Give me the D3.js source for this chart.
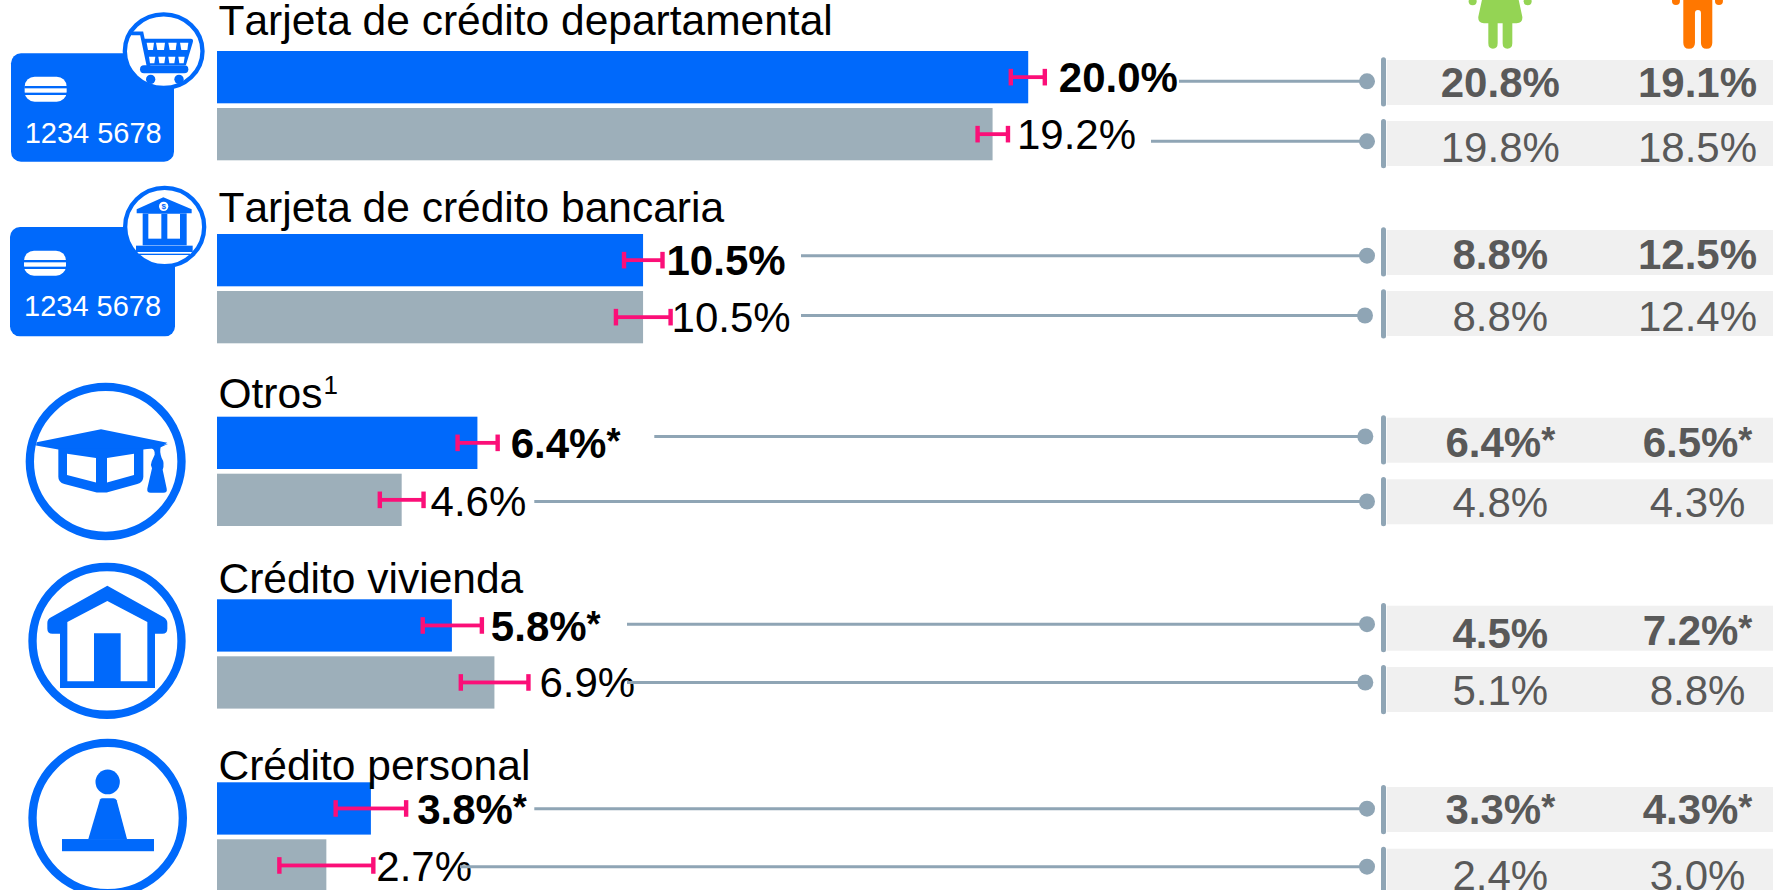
<!DOCTYPE html>
<html><head><meta charset="utf-8">
<style>html,body{margin:0;padding:0;background:#fff;overflow:hidden}svg{display:block}text{font-family:"Liberation Sans",Arial,sans-serif}</style>
<script src="https://cdn.jsdelivr.net/npm/d3@7"></script></head>
<body><svg id="c" width="1773" height="890"></svg>
<script>
// ---- data ----
const categories = ["Tarjeta de crédito departamental","Tarjeta de crédito bancaria","Otros","Crédito vivienda","Crédito personal"];
const currentValues = [20.03,10.52,6.43,5.8,3.8];
const previousValues = [19.15,10.52,4.56,6.85,2.7];
const currentLabels = ["20.0%","10.5%","6.4%*","5.8%*","3.8%*"];
const previousLabels = ["19.2%","10.5%","4.6%","6.9%","2.7%"];
const currentLow = [19.6,10.05,5.94,5.08,2.93];
const currentHigh = [20.44,11.0,6.93,6.54,4.67];
const previousLow = [18.78,9.85,4.02,6.02,1.54];
const previousHigh = [19.53,11.2,5.1,7.69,3.86];
const womenCurrent = ["20.8%","8.8%","6.4%*","4.5%","3.3%*"];
const womenPrevious = ["19.8%","8.8%","4.8%","5.1%","2.4%"];
const menCurrent = ["19.1%","12.5%","6.5%*","7.2%*","4.3%*"];
const menPrevious = ["18.5%","12.4%","4.3%","8.8%","3.0%"];

// ---- layout ----
const BLUE="#0069fb", GRAY="#9dafba", PINK="#fb0f78", SLATE="#8fa5b5", BAND="#f0f0f0", TXT="#595959";
const svg=d3.select("#c");
const x=d3.scaleLinear().domain([0,20]).range([217,1027]);
const barTop=d3.scaleOrdinal().domain(categories).range([51,234,416.7,599.3,782.3]);
const titleBase=d3.scaleOrdinal().domain(categories).range([35.2,221.7,408.3,593.3,780]);
const barH=52.3, prevOffset=57;
const labelGapCur=[14,4,13,9,11], labelGapPrev=[9,1,7,11,3];
const labelBaseCur=[92,275,457.7,640.7,824], labelBasePrev=[149,332,515.7,697,880.7];
const leadStartCur=[1179,801,654.3,627,534.3], leadStartPrev=[1151,801,534.3,627,460];
const leadYCur=[81.3,255.7,436.5,624.2,808.7], leadYPrev=[141.3,315.5,501.5,682.5,866.7];
const dotXCur=[1367,1367,1365.3,1367,1367], dotXPrev=[1367,1365,1367,1365.3,1367];
const bandTopCur=[60,230,417.7,605.7,787], bandTopPrev=[121,291,479.3,667,848.7];
const ruleTopCur=[57.3,227.3,415.3,603,785], ruleTopPrev=[119,289.3,477,665,846.7];
const tblBaseCur=[97.3,269,457.3,648.3,824.3], tblBasePrev=[161.7,330.7,516.7,704.7,890];
const tblBaseMenCur=[97.3,269,457.3,645.3,824.3];
const colW=1500.3, colM=1697.5;

const rows=[];
categories.forEach((c,i)=>{
  rows.push({c,i,kind:"cur",v:currentValues[i],lab:currentLabels[i],lo:currentLow[i],hi:currentHigh[i],
    top:barTop(c),fill:BLUE,bold:true,gap:labelGapCur[i],lb:labelBaseCur[i],ls:leadStartCur[i],ly:leadYCur[i],dx:dotXCur[i],
    bt:bandTopCur[i],rt:ruleTopCur[i],w:womenCurrent[i],m:menCurrent[i],wb:tblBaseCur[i],mb:tblBaseMenCur[i]});
  rows.push({c,i,kind:"prev",v:previousValues[i],lab:previousLabels[i],lo:previousLow[i],hi:previousHigh[i],
    top:barTop(c)+prevOffset,fill:GRAY,bold:false,gap:labelGapPrev[i],lb:labelBasePrev[i],ls:leadStartPrev[i],ly:leadYPrev[i],dx:dotXPrev[i],
    bt:bandTopPrev[i],rt:ruleTopPrev[i],w:womenPrevious[i],m:menPrevious[i],wb:tblBasePrev[i],mb:tblBasePrev[i]});
});
// label with a smaller raised asterisk
function starred(sel,get){
  sel.each(function(d){
    const s=get(d), t=d3.select(this), star=s.endsWith("*");
    t.append("tspan").text(star?s.slice(0,-1):s);
    if(star) t.append("tspan").attr("font-size",36).attr("dy",-4).text("*");
  });
}

// table bands
svg.append("g").selectAll("rect").data(rows).join("rect")
  .attr("x",1386.7).attr("y",d=>d.bt).attr("width",1773-1386.7).attr("height",45).attr("fill",BAND);
// vertical rules
svg.append("g").selectAll("rect").data(rows).join("rect")
  .attr("x",1381).attr("y",d=>d.rt).attr("width",5).attr("height",49.2).attr("rx",2.5).attr("fill",SLATE);
// table text
[["w","wb",colW],["m","mb",colM]].forEach(([k,b,cx])=>{
  svg.append("g").selectAll("text").data(rows).join("text")
    .attr("x",cx).attr("y",d=>d[b]).attr("text-anchor","middle").attr("font-size",42)
    .attr("font-weight",d=>d.bold?"bold":"normal").attr("fill",TXT).call(starred,d=>d[k]);
});
// bars
svg.append("g").selectAll("rect").data(rows).join("rect")
  .attr("x",x(0)).attr("y",d=>d.top).attr("width",d=>x(d.v)-x(0)).attr("height",barH).attr("fill",d=>d.fill);
// category titles
const titles=svg.append("g").selectAll("text").data(categories).join("text")
  .attr("x",218.5).attr("y",d=>titleBase(d)).attr("font-size",42.5).style("font-kerning","none").attr("fill","#000").text(d=>d);
titles.filter(d=>d==="Otros").append("tspan").attr("font-size",26).attr("dy",-14).attr("dx",1).text("1");
// value labels
svg.append("g").selectAll("text").data(rows).join("text")
  .attr("x",d=>x(d.hi)+d.gap).attr("y",d=>d.lb).attr("font-size",42)
  .attr("font-weight",d=>d.bold?"bold":"normal").attr("fill","#000").call(starred,d=>d.lab);
// error bars
const eb=svg.append("g").selectAll("g").data(rows).join("g").attr("fill",PINK);
eb.append("rect").attr("x",d=>x(d.lo)).attr("y",d=>d.top+barH/2-1.9).attr("width",d=>x(d.hi)-x(d.lo)).attr("height",3.8);
eb.append("rect").attr("x",d=>x(d.lo)-2.2).attr("y",d=>d.top+barH/2-8.3).attr("width",4.4).attr("height",16.6);
eb.append("rect").attr("x",d=>x(d.hi)-2.2).attr("y",d=>d.top+barH/2-8.3).attr("width",4.4).attr("height",16.6);
// leader lines + dots
svg.append("g").selectAll("line").data(rows).join("line")
  .attr("x1",d=>d.ls).attr("x2",d=>d.dx).attr("y1",d=>d.ly).attr("y2",d=>d.ly).attr("stroke",SLATE).attr("stroke-width",3);
svg.append("g").selectAll("circle").data(rows).join("circle")
  .attr("cx",d=>d.dx).attr("cy",d=>d.ly).attr("r",8).attr("fill",SLATE);

// ---- pictograms (drawn in crop units) ----
function icon(ox,oy,ky){return svg.append("g").attr("transform",`translate(${ox},${oy}) scale(${1/3},${1/(ky||3)})`).attr("fill",BLUE);}
function card(g,x0,y0,w,h,bx,by,tx,ty){
  g.append("rect").attr("x",x0).attr("y",y0).attr("width",w).attr("height",h).attr("rx",30);
  g.append("rect").attr("x",bx).attr("y",by).attr("width",126).attr("height",75).attr("rx",30).attr("fill","#fff");
  g.append("rect").attr("x",bx-1).attr("y",by+28).attr("width",128).attr("height",7);
  g.append("rect").attr("x",bx-1).attr("y",by+48).attr("width",128).attr("height",7);
  g.append("text").attr("x",tx).attr("y",ty).attr("fill","#fff").attr("font-size",87).text("1234 5678");
}
function ring(g,cx,cy,rx,ry,t){
  g.append("ellipse").attr("cx",cx).attr("cy",cy).attr("rx",rx-t/2).attr("ry",ry-t/2)
   .attr("fill","#fff").attr("stroke",BLUE).attr("stroke-width",t);
}
// card 1 with cart
let g=icon(0,0);
card(g,33,160,489,325,74,230,74,428);
ring(g,491,153.5,123,117,13);
g.append("path").attr("d","M395 100H425L447 205").attr("fill","none").attr("stroke",BLUE).attr("stroke-width",11).attr("stroke-linecap","round");
g.append("path").attr("d","M430 116H572Q582 116 578 128L558 195H445Z");
[[440,128,462,150],[468,128,495,150],[505,128,530,150],[540,128,565,150]].forEach(a=>{
  g.append("path").attr("fill","#fff").attr("d",`M${a[0]} ${a[1]}H${a[2]}L${a[2]-3} ${a[3]}H${a[0]+4}Z`);});
[[447,170,466,190],[475,170,496,190],[505,170,526,190],[535,170,554,190]].forEach(a=>{
  g.append("path").attr("fill","#fff").attr("d",`M${a[0]} ${a[1]}H${a[2]}L${a[2]-3} ${a[3]}H${a[0]+3}Z`);});
g.append("rect").attr("x",420).attr("y",196).attr("width",145).attr("height",24).attr("rx",12);
g.append("circle").attr("cx",452).attr("cy",238).attr("r",14);
g.append("circle").attr("cx",537).attr("cy",238).attr("r",14);
// card 2 with bank
g=icon(0,0);
card(g,30,681,495,328,72,752,72,948);
ring(g,494,681,125,124,13);
g.append("path").attr("d","M410 628L490 592L575 628V640H410Z");
g.append("rect").attr("x",428).attr("y",640).attr("width",132).attr("height",96);
g.append("rect").attr("x",445).attr("y",642).attr("width",39).attr("height",74).attr("fill","#fff");
g.append("rect").attr("x",502).attr("y",642).attr("width",38).attr("height",74).attr("fill","#fff");
g.append("circle").attr("cx",491).attr("cy",619).attr("r",14).attr("fill","#fff");
g.append("text").attr("x",491).attr("y",628).attr("text-anchor","middle").attr("font-size",24).attr("font-weight","bold").text("$");
g.append("rect").attr("x",408).attr("y",737).attr("width",170).attr("height",19);
g.append("rect").attr("x",416).attr("y",761).attr("width",154).attr("height",4);
// graduation cap
const ky=2.958;
g=icon(0,360,ky);
ring(g,317,300,240,233,25);
g.append("path").attr("d","M110 243L303 205L502 245L480 258L430 265H175L108 253Z");
g.append("path").attr("d","M175 262H430V345Q430 362 412 367L320 392H290L193 367Q175 362 175 345Z");
g.append("path").attr("fill","#fff").attr("d","M201 277L288 290V362L201 340Z");
g.append("path").attr("fill","#fff").attr("d","M321 290L402 277V340L321 362Z");
g.append("path").attr("d","M432 262H455Q465 265 464 280L455 300Q450 310 456 320L442 380Q440 393 452 393H490Q503 393 500 380L488 325Q495 305 485 290Q478 270 482 258L505 248Z");
// house
g=icon(0,360,ky);
ring(g,321,831,236,231,25);
g.append("path").attr("d","M322 668L490 760Q502 767 502 778V795Q502 810 487 810H465V970H180V810H157Q142 810 142 795V778Q142 767 152 762Z");
g.append("path").attr("fill","#fff").attr("d","M322 713L442 775V950H362V808H282V950H202V775Z");
// person
g=icon(0,360,ky);
ring(g,323,1355,238,235,25);
g.append("circle").attr("cx",323).attr("cy",1248).attr("r",36.5);
g.append("path").attr("d","M300 1300Q302 1296 308 1296H340Q347 1296 350 1302L381 1417H265Z");
g.append("rect").attr("x",186).attr("y",1417).attr("width",276).attr("height",36);
// woman
g=svg.append("g").attr("transform","translate(1340,0) scale(0.3333)").attr("fill","#94d454");
g.append("path").attr("d","M428 -10H534L547 50Q549 70 530 70H517V130Q517 146 502 146Q488 146 488 130V70H473V130Q473 146 459 146Q445 146 445 130V70H432Q413 70 415 50Z");
g.append("circle").attr("cx",398).attr("cy",4).attr("r",12);
g.append("circle").attr("cx",563).attr("cy",4).attr("r",12);
g.append("rect").attr("x",395).attr("y",-10).attr("width",40).attr("height",10);
g.append("rect").attr("x",527).attr("y",-10).attr("width",40).attr("height",10);
// man
g=svg.append("g").attr("transform","translate(1340,0) scale(0.3333)").attr("fill","#ff7700");
g.append("path").attr("d","M1030 -10H1117V128Q1117 146 1100 146Q1083 146 1083 128V40Q1083 30 1074 30Q1065 30 1065 40V128Q1065 146 1047 146Q1030 146 1030 128Z");
g.append("circle").attr("cx",1008).attr("cy",3).attr("r",12);
g.append("circle").attr("cx",1137).attr("cy",3).attr("r",12);
g.append("rect").attr("x",1005).attr("y",-10).attr("width",30).attr("height",10);
g.append("rect").attr("x",1112).attr("y",-10).attr("width",30).attr("height",10);
</script></body></html>
